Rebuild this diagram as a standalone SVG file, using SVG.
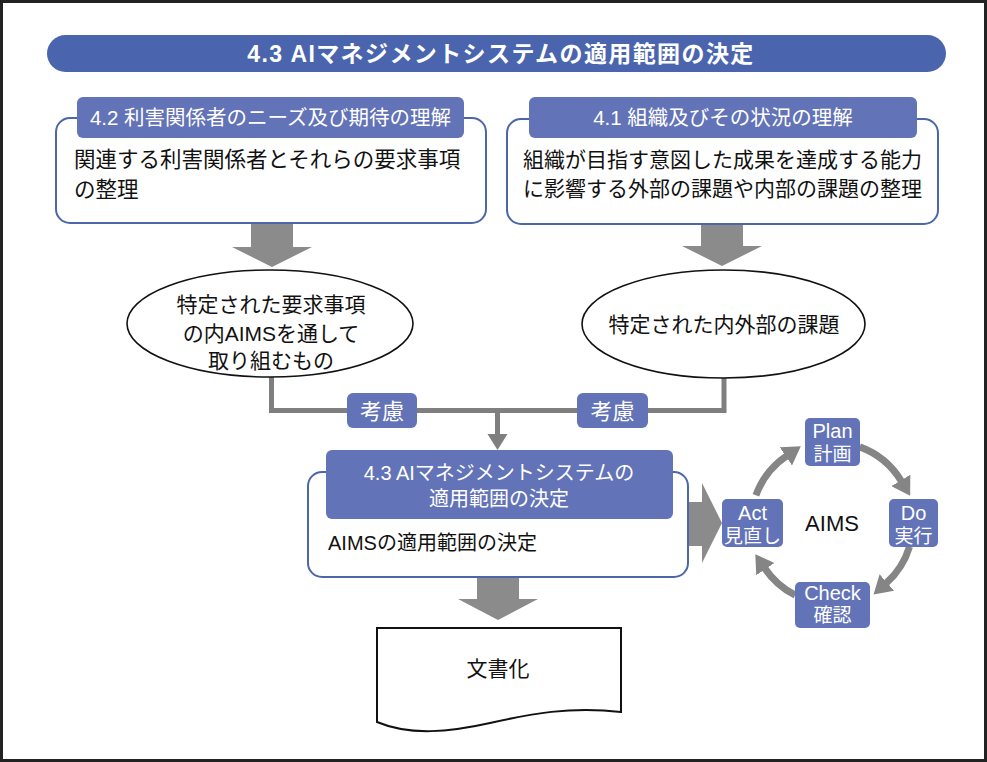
<svg xmlns="http://www.w3.org/2000/svg" width="987" height="762" viewBox="0 0 987 762">
<style>
.t{font-family:"Liberation Sans","Noto Sans CJK JP",sans-serif;}
.w{fill:#ffffff;}
.k{fill:#111111;}
.tab{fill:#6373b7;}
.box{fill:#ffffff;stroke:#4d66aa;stroke-width:2;}
.ell{fill:#ffffff;stroke:#111111;stroke-width:1.6;}
.garrow{fill:#8b8b8b;}
.line{fill:none;stroke:#7f7f7f;stroke-width:5;}
.cyc{fill:none;stroke:#858585;stroke-width:7;marker-end:url(#ah);}
</style>
<defs>
<marker id="ah" markerUnits="userSpaceOnUse" viewBox="0 0 18 22" refX="1" refY="11" markerWidth="18" markerHeight="22" orient="auto">
<path d="M0,0 L18,11 L0,22 Z" fill="#858585"/>
</marker>
</defs>
<rect x="0" y="0" width="987" height="762" fill="#ffffff"/>
<rect x="1.5" y="1.5" width="984" height="759" fill="none" stroke="#222222" stroke-width="3"/>

<g id="title">
<rect x="47" y="35" width="899" height="37" rx="18.5" fill="#4a65ad"/>
<text class="t w" x="501" y="62" font-size="23" font-weight="bold" letter-spacing="1.4" text-anchor="middle">4.3 AIマネジメントシステムの適用範囲の決定</text>
</g>

<g id="connectors">
<path class="garrow" d="M251,223 H293 V247 H312 L272,267 L232,247 H251 Z"/>
<path class="garrow" d="M701,223 H743 V246 H762 L722,266 L682,246 H701 Z"/>
<path class="garrow" d="M477,577 H519 V599 H538 L498,620 L458,599 H477 Z"/>
<path class="garrow" d="M688,502 H702 V483 L722,523 L702,563 V546 H688 Z"/>
<path class="line" d="M271.5,377 V410.5 H724 V378"/>
<path class="line" d="M497.5,410.5 V436"/>
<path d="M487.5,434 H507.5 L497.5,450 Z" fill="#7f7f7f"/>
<path class="cyc" d="M755.9,495.3 A81,81 0 0 1 786.7,455.8"/>
<path class="cyc" d="M859.7,446.9 A81,81 0 0 1 901.4,481.3"/>
<path class="cyc" d="M909.5,546.7 A81,81 0 0 1 886.2,583.2"/>
<path class="cyc" d="M795.2,595.2 A81,81 0 0 1 764.8,568.3"/>
</g>

<g id="node-4-2">
<rect class="box" x="56" y="118" width="430" height="105" rx="14"/>
<rect class="tab" x="77" y="97" width="387" height="41" rx="6"/>
<text class="t w" x="270.5" y="125" font-size="20.5" text-anchor="middle">4.2 利害関係者のニーズ及び期待の理解</text>
<text class="t k" x="74" y="167" font-size="21.5">関連する利害関係者とそれらの要求事項</text>
<text class="t k" x="74" y="197" font-size="21.5">の整理</text>
</g>

<g id="node-4-1">
<rect class="box" x="507" y="119" width="431" height="105" rx="14"/>
<rect class="tab" x="529" y="97" width="388" height="41" rx="6"/>
<text class="t w" x="723" y="125" font-size="20.5" text-anchor="middle">4.1 組織及びその状況の理解</text>
<text class="t k" x="523" y="167" font-size="21">組織が目指す意図した成果を達成する能力</text>
<text class="t k" x="523" y="196" font-size="21">に影響する外部の課題や内部の課題の整理</text>
</g>

<g id="ellipse-left">
<ellipse class="ell" cx="270" cy="323.5" rx="143" ry="53.5"/>
<text class="t k" font-size="21" text-anchor="middle"><tspan x="271" y="312">特定された要求事項</tspan><tspan x="271" y="341">の内AIMSを通して</tspan><tspan x="271" y="368">取り組むもの</tspan></text>
</g>

<g id="ellipse-right">
<ellipse class="ell" cx="723.5" cy="324" rx="141.5" ry="54"/>
<text class="t k" x="724" y="332" font-size="21" text-anchor="middle">特定された内外部の課題</text>
</g>

<g id="label-left">
<rect class="tab" x="347" y="393" width="70" height="35" rx="6"/>
<text class="t w" x="382" y="418.5" font-size="22" text-anchor="middle">考慮</text>
</g>

<g id="label-right">
<rect class="tab" x="577" y="393" width="71" height="35" rx="6"/>
<text class="t w" x="612.5" y="418.5" font-size="22" text-anchor="middle">考慮</text>
</g>

<g id="node-4-3">
<rect class="box" x="308" y="472" width="380" height="105" rx="14"/>
<rect class="tab" x="326" y="450" width="347" height="69" rx="6"/>
<text class="t w" x="499" y="480" font-size="20" text-anchor="middle">4.3 AIマネジメントシステムの</text>
<text class="t w" x="499" y="506" font-size="20" text-anchor="middle">適用範囲の決定</text>
<text class="t k" x="328" y="550" font-size="20">AIMSの適用範囲の決定</text>
</g>

<g id="document">
<path d="M377,628 H621 V712 C570,706 530,714 490,723 C450,732 410,736 377,722 Z" fill="#ffffff" stroke="#111111" stroke-width="2"/>
<text class="t k" x="498" y="676" font-size="21" text-anchor="middle">文書化</text>
</g>

<g id="pdca">
<text class="t k" x="832" y="531" font-size="22" text-anchor="middle">AIMS</text>
<g id="plan">
<rect class="tab" x="805" y="418" width="55" height="48" rx="5"/>
<text class="t w" x="832.5" y="438" font-size="20" text-anchor="middle">Plan</text>
<text class="t w" x="832.5" y="461" font-size="19" text-anchor="middle">計画</text>
</g>
<g id="do">
<rect class="tab" x="889" y="499" width="49" height="48" rx="5"/>
<text class="t w" x="913.5" y="520" font-size="20" text-anchor="middle">Do</text>
<text class="t w" x="913.5" y="543" font-size="19" text-anchor="middle">実行</text>
</g>
<g id="check">
<rect class="tab" x="795" y="582" width="75" height="46" rx="5"/>
<text class="t w" x="832.5" y="600" font-size="20" text-anchor="middle">Check</text>
<text class="t w" x="832.5" y="622" font-size="19" text-anchor="middle">確認</text>
</g>
<g id="act">
<rect class="tab" x="722" y="499" width="61" height="48" rx="5"/>
<text class="t w" x="752.5" y="520" font-size="20" text-anchor="middle">Act</text>
<text class="t w" x="752.5" y="543" font-size="19" text-anchor="middle">見直し</text>
</g>
</g>
</svg>
